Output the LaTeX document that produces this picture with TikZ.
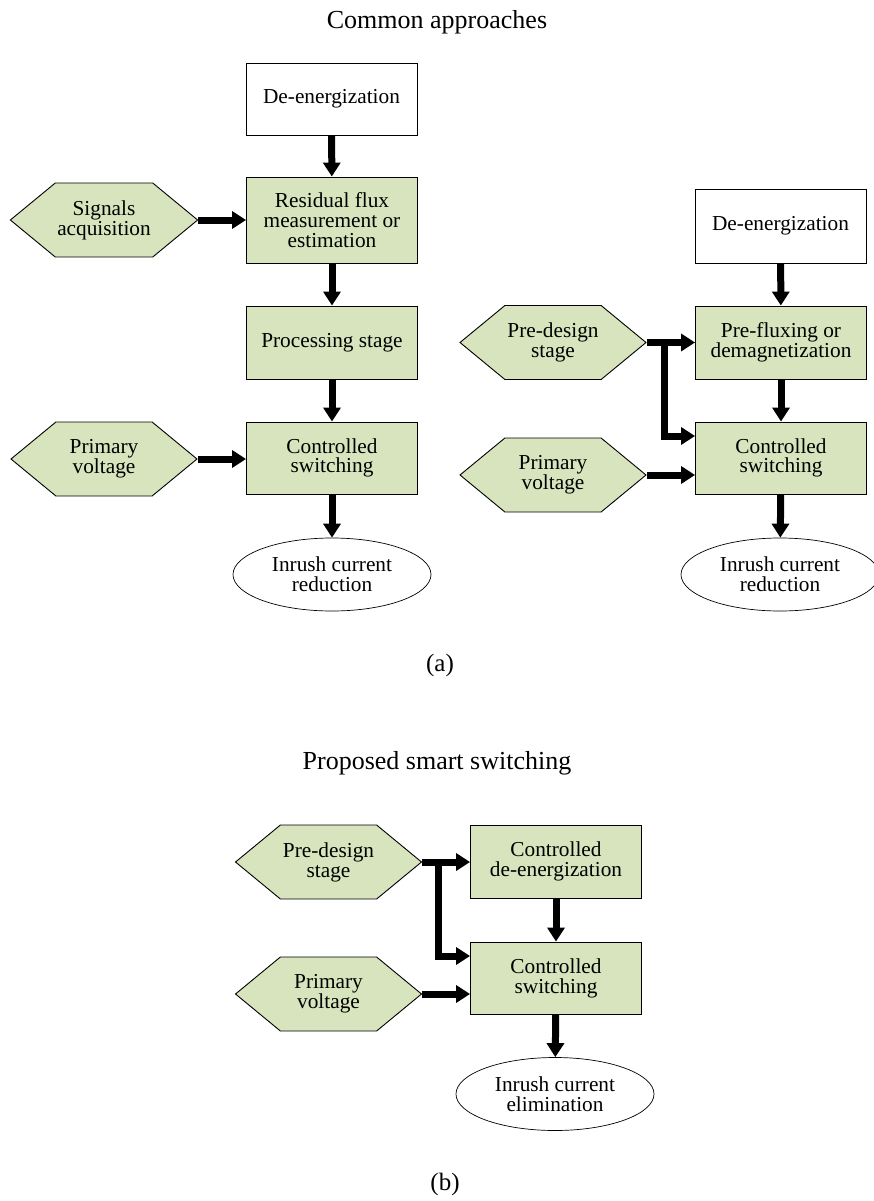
\documentclass[tikz,border=0pt]{standalone}
\usepackage{fontspec}
\setmainfont{Liberation Serif}
\usetikzlibrary{arrows.meta,shapes.geometric,shapes.symbols,positioning}
\definecolor{boxgreen}{RGB}{215,228,189}
\tikzset{
    txt/.style={font=\fontsize{21.3}{19.8}\selectfont, align=center},
    plainbox/.style={txt, draw, line width=0.9pt, minimum width=171pt, minimum height=73pt, inner sep=2pt},
    greenbox/.style={plainbox, fill=boxgreen},
    hexa/.style={txt, draw, fill=boxgreen, line width=0.9pt, signal, signal to=west and east,
        signal pointer angle=79, minimum width=186pt, minimum height=74pt, inner sep=2pt},
    oval/.style={txt, draw, ellipse, line width=0.7pt, minimum width=198pt, minimum height=73pt, inner sep=0pt},
    flow/.style={line width=7pt, -{Triangle[length=14pt,width=17pt]}},
    caption/.style={font=\fontsize{26}{29}\selectfont},
    sublabel/.style={font=\fontsize{25}{28}\selectfont}
}

\begin{document}
\begin{tikzpicture}[x=1pt,y=-1pt]
    \useasboundingbox (0,0) rectangle (873,1201);

    % (a) common approaches
    \node[caption] (titleA) at (437,22) {Common approaches};

    \node[plainbox, minimum height=72pt] (deA) at (331.5,99) {De-energization};
    \node[greenbox, minimum height=86pt] (resA) at (332,220) {Residual flux\\measurement or\\estimation};
    \node[greenbox] (procA) at (332,342.5) {Processing stage};
    \node[greenbox, minimum height=72pt] (swA) at (332,458) {Controlled\\switching};
    \node[oval] (inA) at (332,574.5) {Inrush current\\reduction};
    \node[hexa] (sigA) at (104,220) {Signals\\acquisition};
    \node[hexa] (pvA) at (104,459) {Primary\\voltage};

    \draw[flow] (deA) -- (resA);
    \draw[flow] (resA) -- (procA);
    \draw[flow] (procA) -- (swA);
    \draw[flow] (swA) -- (inA);
    \draw[flow] (sigA.east) -- (resA.west);
    \draw[flow] (pvA.east) -- (pvA.east -| swA.west);

    \node[plainbox, minimum height=74pt] (deB) at (780.5,226) {De-energization};
    \node[greenbox] (preB) at (781,342.5) {Pre-fluxing or\\demagnetization};
    \node[greenbox, minimum height=72pt] (swB) at (781,458) {Controlled\\switching};
    \node[oval] (inB) at (780,574.5) {Inrush current\\reduction};
    \node[hexa] (pdB) at (553,342.5) {Pre-design\\stage};
    \node[hexa] (pvB) at (553,475) {Primary\\voltage};
    \coordinate (brB) at (664,342.5);

    \draw[flow] (deB) -- (preB);
    \draw[flow] (preB) -- (swB);
    \draw[flow] (swB) -- (inB);
    \draw[flow] (pdB.east) -- (preB.west);
    \draw[flow] (brB) |- ([yshift=22pt]swB.west);
    \draw[flow] (pvB.east) -- (pvB.east -| swB.west);

    \node[sublabel] (labA) at (440,665) {(a)};

    % (b) proposed smart switching
    \node[caption] (titleB) at (437,763) {Proposed smart switching};

    \node[greenbox] (cdC) at (556,861.5) {Controlled\\de-energization};
    \node[greenbox, minimum height=72pt] (swC) at (556,978) {Controlled\\switching};
    \node[oval] (inC) at (555,1094) {Inrush current\\elimination};
    \node[hexa] (pdC) at (328.5,862) {Pre-design\\stage};
    \node[hexa] (pvC) at (328.5,994) {Primary\\voltage};
    \coordinate (brC) at (438,862);

    \draw[flow] (cdC) -- (swC);
    \draw[flow] (swC) -- (inC);
    \draw[flow] (pdC.east) -- (pdC.east -| cdC.west);
    \draw[flow] (brC) |- ([yshift=22pt]swC.west);
    \draw[flow] (pvC.east) -- (pvC.east -| swC.west);

    \node[sublabel] (labB) at (445,1184) {(b)};
\end{tikzpicture}
\end{document}
